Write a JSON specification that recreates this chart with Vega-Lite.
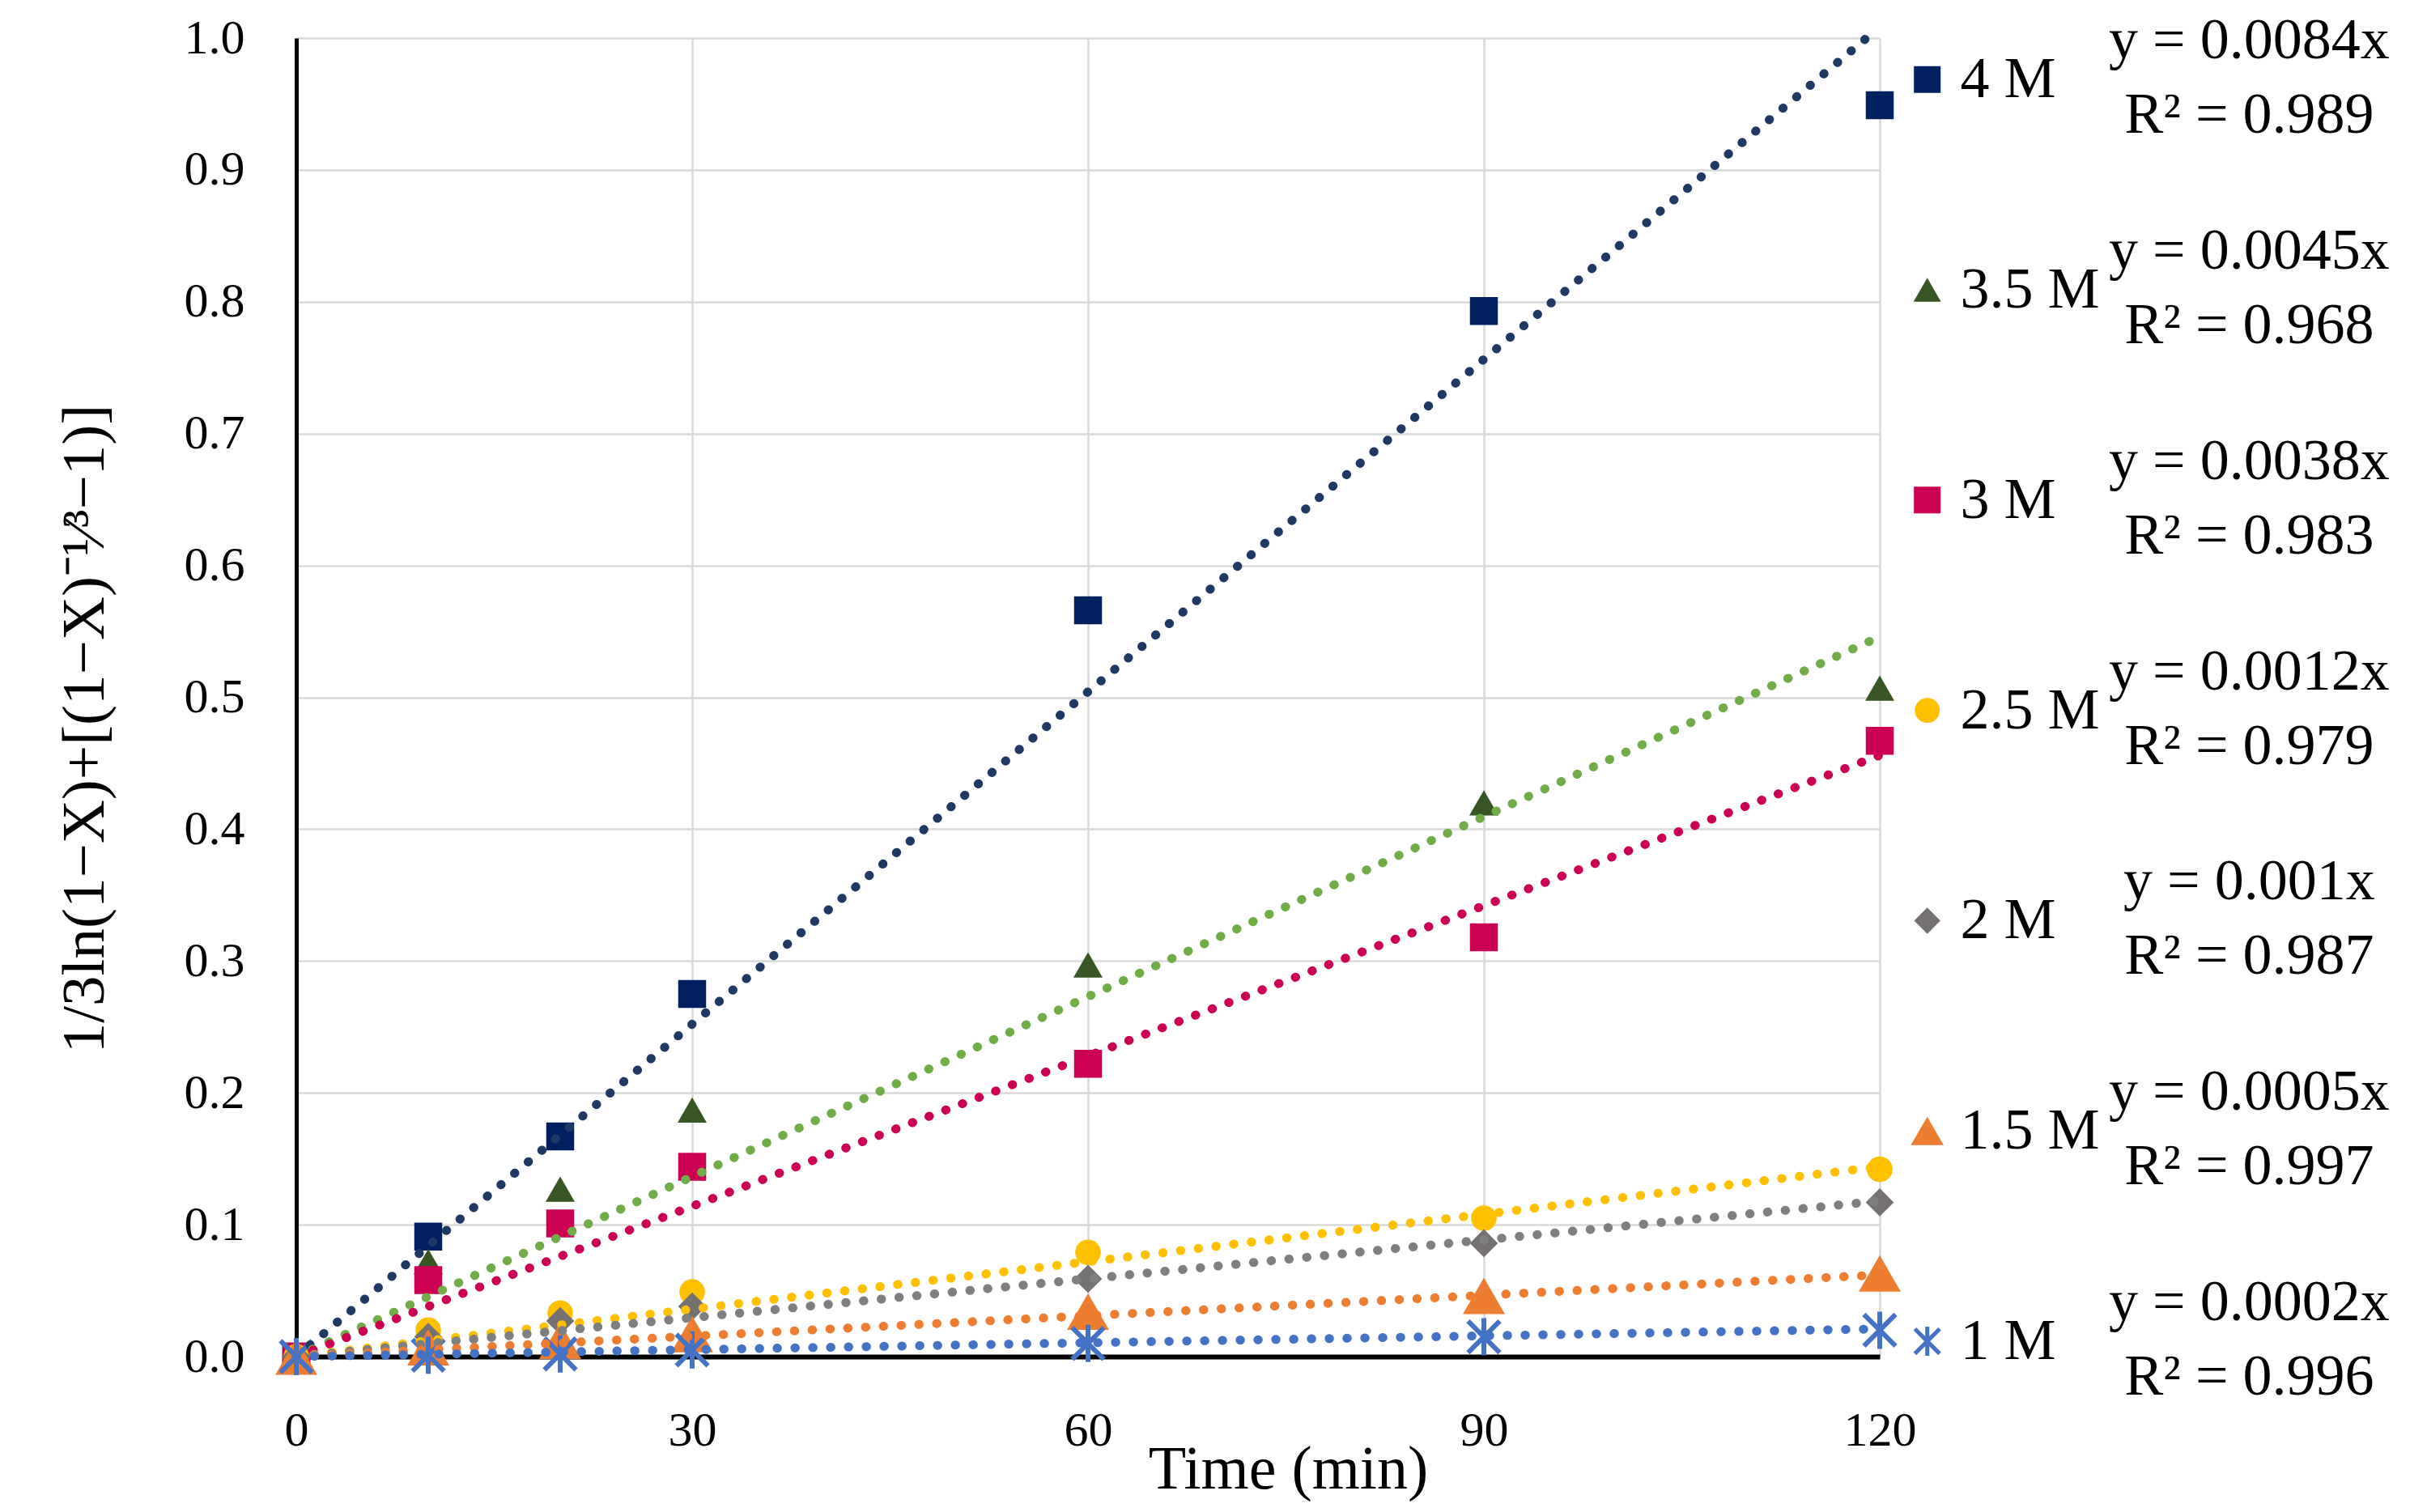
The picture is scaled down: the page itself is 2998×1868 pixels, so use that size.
{
  "$schema": "https://vega.github.io/schema/vega-lite/v6.json",
  "width": 1956,
  "height": 1629,
  "autosize": {"type": "none"},
  "padding": {"left": 366, "top": 47, "right": 676, "bottom": 192},
  "background": "white",
  "datasets": {
    "obs": [
      {"series": "4 M", "t": 0, "v": 0},
      {"series": "4 M", "t": 10, "v": 0.091},
      {"series": "4 M", "t": 20, "v": 0.167},
      {"series": "4 M", "t": 30, "v": 0.275},
      {"series": "4 M", "t": 60, "v": 0.566},
      {"series": "4 M", "t": 90, "v": 0.793},
      {"series": "4 M", "t": 120, "v": 0.949},
      {"series": "3.5 M", "t": 0, "v": 0},
      {"series": "3.5 M", "t": 10, "v": 0.072},
      {"series": "3.5 M", "t": 20, "v": 0.127},
      {"series": "3.5 M", "t": 30, "v": 0.187},
      {"series": "3.5 M", "t": 60, "v": 0.297},
      {"series": "3.5 M", "t": 90, "v": 0.42},
      {"series": "3.5 M", "t": 120, "v": 0.507},
      {"series": "3 M", "t": 0, "v": 0},
      {"series": "3 M", "t": 10, "v": 0.058},
      {"series": "3 M", "t": 20, "v": 0.101},
      {"series": "3 M", "t": 30, "v": 0.144},
      {"series": "3 M", "t": 60, "v": 0.222},
      {"series": "3 M", "t": 90, "v": 0.318},
      {"series": "3 M", "t": 120, "v": 0.467},
      {"series": "2.5 M", "t": 0, "v": 0},
      {"series": "2.5 M", "t": 10, "v": 0.02},
      {"series": "2.5 M", "t": 20, "v": 0.033},
      {"series": "2.5 M", "t": 30, "v": 0.049},
      {"series": "2.5 M", "t": 60, "v": 0.079},
      {"series": "2.5 M", "t": 90, "v": 0.105},
      {"series": "2.5 M", "t": 120, "v": 0.142},
      {"series": "2 M", "t": 0, "v": 0},
      {"series": "2 M", "t": 10, "v": 0.015},
      {"series": "2 M", "t": 20, "v": 0.027},
      {"series": "2 M", "t": 30, "v": 0.038},
      {"series": "2 M", "t": 60, "v": 0.059},
      {"series": "2 M", "t": 90, "v": 0.086},
      {"series": "2 M", "t": 120, "v": 0.117},
      {"series": "1.5 M", "t": 0, "v": 0},
      {"series": "1.5 M", "t": 10, "v": 0.007},
      {"series": "1.5 M", "t": 20, "v": 0.012},
      {"series": "1.5 M", "t": 30, "v": 0.017},
      {"series": "1.5 M", "t": 60, "v": 0.034},
      {"series": "1.5 M", "t": 90, "v": 0.046},
      {"series": "1.5 M", "t": 120, "v": 0.063},
      {"series": "1 M", "t": 0, "v": 0},
      {"series": "1 M", "t": 10, "v": 0.001},
      {"series": "1 M", "t": 20, "v": 0.002},
      {"series": "1 M", "t": 30, "v": 0.005},
      {"series": "1 M", "t": 60, "v": 0.01},
      {"series": "1 M", "t": 90, "v": 0.015},
      {"series": "1 M", "t": 120, "v": 0.02}
    ],
    "trend": [
      {"series": "4 M", "t": 0, "v": 0},
      {"series": "4 M", "t": 119, "v": 1.0},
      {"series": "3.5 M", "t": 0, "v": 0},
      {"series": "3.5 M", "t": 120, "v": 0.546},
      {"series": "3 M", "t": 0, "v": 0},
      {"series": "3 M", "t": 120, "v": 0.456},
      {"series": "2.5 M", "t": 0, "v": 0},
      {"series": "2.5 M", "t": 120, "v": 0.144},
      {"series": "2 M", "t": 0, "v": 0},
      {"series": "2 M", "t": 120, "v": 0.118},
      {"series": "1.5 M", "t": 0, "v": 0},
      {"series": "1.5 M", "t": 120, "v": 0.062},
      {"series": "1 M", "t": 0, "v": 0},
      {"series": "1 M", "t": 120, "v": 0.021}
    ],
    "series": [
      {"series": "4 M", "eq": "y = 0.0084x", "r2": "R² = 0.989"},
      {"series": "3.5 M", "eq": "y = 0.0045x", "r2": "R² = 0.968"},
      {"series": "3 M", "eq": "y = 0.0038x", "r2": "R² = 0.983"},
      {"series": "2.5 M", "eq": "y = 0.0012x", "r2": "R² = 0.979"},
      {"series": "2 M", "eq": "y = 0.001x", "r2": "R² = 0.987"},
      {"series": "1.5 M", "eq": "y = 0.0005x", "r2": "R² = 0.997"},
      {"series": "1 M", "eq": "y = 0.0002x", "r2": "R² = 0.996"}
    ]
  },
  "layer": [
    {
      "description": "plot",
      "layer": [
        {
          "description": "markers",
          "data": {"name": "obs"},
          "transform": [{"filter": "datum.series != '1 M'"}],
          "mark": {"type": "point", "filled": true, "opacity": 1},
          "encoding": {
            "x": {
              "field": "t",
              "type": "quantitative",
              "scale": {"domain": [0, 120], "nice": false, "zero": false},
              "axis": {
                "values": [0, 30, 60, 90, 120],
                "title": "Time (min)",
                "titleX": 1225,
                "titleY": 162,
                "titleAlign": "center",
                "titleBaseline": "alphabetic",
                "titleFontSize": 76,
                "labelFontSize": 60,
                "labelPadding": 62,
                "labelFlush": false,
                "domainWidth": 6
              }
            },
            "y": {
              "field": "v",
              "type": "quantitative",
              "scale": {"domain": [0, 1], "nice": false},
              "axis": {
                "values": [0, 0.1, 0.2, 0.3, 0.4, 0.5, 0.6, 0.7, 0.8, 0.9, 1.0],
                "format": ".1f",
                "title": "1/3ln(1−X)+[(1−X)⁻¹⁄³−1)]",
                "titleX": -239,
                "titleY": 853,
                "titleAngle": -90,
                "titleAlign": "center",
                "titleBaseline": "alphabetic",
                "titleFontSize": 75,
                "labelFontSize": 60,
                "labelPadding": 64,
                "labelFlush": false,
                "domainWidth": 5
              }
            },
            "color": {
              "field": "series",
              "type": "nominal",
              "scale": {
                "domain": ["4 M", "3.5 M", "3 M", "2.5 M", "2 M", "1.5 M"],
                "range": ["#002060", "#375623", "#CC0052", "#FFC000", "#767171", "#ED7D31"]
              },
              "legend": null
            },
            "shape": {
              "field": "series",
              "type": "nominal",
              "scale": {
                "domain": ["4 M", "3.5 M", "3 M", "2.5 M", "2 M", "1.5 M"],
                "range": ["square", "triangle-up", "square", "circle", "diamond", "triangle-up"]
              },
              "legend": null
            },
            "size": {
              "field": "series",
              "type": "nominal",
              "scale": {
                "type": "ordinal",
                "domain": ["4 M", "3.5 M", "3 M", "2.5 M", "2 M", "1.5 M"],
                "range": [1190, 1300, 1190, 1000, 1200, 2700]
              },
              "legend": null
            }
          }
        },
        {
          "description": "1 M star markers",
          "data": {"name": "obs"},
          "transform": [{"filter": "datum.series == '1 M'"}],
          "mark": {
            "type": "point",
            "shape": "M-0.85,-0.85L0.85,0.85M0.85,-0.85L-0.85,0.85M0,-1L0,1",
            "filled": false,
            "color": "#4472C4",
            "strokeWidth": 6,
            "size": 2116,
            "opacity": 1
          },
          "encoding": {
            "x": {"field": "t", "type": "quantitative", "scale": {"domain": [0, 120], "nice": false, "zero": false}},
            "y": {"field": "v", "type": "quantitative", "scale": {"domain": [0, 1], "nice": false}}
          }
        },
        {
          "description": "trend lines",
          "data": {"name": "trend"},
          "mark": {"type": "line", "strokeWidth": 11, "strokeDash": [0.5, 21.5], "strokeCap": "round"},
          "encoding": {
            "x": {"field": "t", "type": "quantitative", "scale": {"domain": [0, 120], "nice": false, "zero": false}},
            "y": {"field": "v", "type": "quantitative", "scale": {"domain": [0, 1], "nice": false}},
            "stroke": {
              "field": "series",
              "type": "nominal",
              "scale": {
                "domain": ["4 M", "3.5 M", "3 M", "2.5 M", "2 M", "1.5 M", "1 M"],
                "range": ["#203864", "#70AD47", "#CC0052", "#FFC000", "#7F7F7F", "#ED7D31", "#4472C4"]
              },
              "legend": null
            }
          }
        }
      ]
    },
    {
      "description": "legend and equations",
      "data": {"name": "series"},
      "layer": [
        {
          "transform": [{"filter": "datum.series != '1 M'"}],
          "mark": {"type": "point", "filled": true, "opacity": 1},
          "encoding": {
            "x": {"datum": 123.6, "type": "quantitative", "scale": {"domain": [0, 120], "nice": false, "zero": false}},
            "y": {
              "field": "series",
              "type": "ordinal",
              "scale": {"type": "point", "domain": ["4 M", "3.5 M", "3 M", "2.5 M", "2 M", "1.5 M", "1 M"], "padding": 0.135, "align": 0.73},
              "axis": null
            },
            "color": {
              "field": "series",
              "type": "nominal",
              "scale": {
                "domain": ["4 M", "3.5 M", "3 M", "2.5 M", "2 M", "1.5 M"],
                "range": ["#002060", "#375623", "#CC0052", "#FFC000", "#767171", "#ED7D31"]
              },
              "legend": null
            },
            "shape": {
              "field": "series",
              "type": "nominal",
              "scale": {
                "domain": ["4 M", "3.5 M", "3 M", "2.5 M", "2 M", "1.5 M"],
                "range": ["square", "triangle-up", "square", "circle", "diamond", "triangle-up"]
              },
              "legend": null
            },
            "size": {
              "field": "series",
              "type": "nominal",
              "scale": {
                "type": "ordinal",
                "domain": ["4 M", "3.5 M", "3 M", "2.5 M", "2 M", "1.5 M"],
                "range": [1089, 1150, 1089, 950, 1050, 1640]
              },
              "legend": null
            }
          }
        },
        {
          "transform": [{"filter": "datum.series == '1 M'"}],
          "mark": {
            "type": "point",
            "shape": "M-0.85,-0.85L0.85,0.85M0.85,-0.85L-0.85,0.85M0,-1L0,1",
            "filled": false,
            "color": "#4472C4",
            "strokeWidth": 5,
            "size": 1300,
            "opacity": 1
          },
          "encoding": {
            "x": {"datum": 123.6, "type": "quantitative", "scale": {"domain": [0, 120], "nice": false, "zero": false}},
            "y": {
              "field": "series",
              "type": "ordinal",
              "scale": {"type": "point", "domain": ["4 M", "3.5 M", "3 M", "2.5 M", "2 M", "1.5 M", "1 M"], "padding": 0.135, "align": 0.73},
              "axis": null
            }
          }
        },
        {
          "mark": {"type": "text", "align": "left", "baseline": "middle", "fontSize": 72, "color": "black"},
          "encoding": {
            "x": {"datum": 126.1, "type": "quantitative", "scale": {"domain": [0, 120], "nice": false, "zero": false}},
            "y": {
              "field": "series",
              "type": "ordinal",
              "scale": {"type": "point", "domain": ["4 M", "3.5 M", "3 M", "2.5 M", "2 M", "1.5 M", "1 M"], "padding": 0.135, "align": 0.73},
              "axis": null
            },
            "text": {"field": "series"}
          }
        },
        {
          "mark": {"type": "text", "align": "center", "baseline": "middle", "dy": -48, "fontSize": 72, "color": "black"},
          "encoding": {
            "x": {"datum": 148, "type": "quantitative", "scale": {"domain": [0, 120], "nice": false, "zero": false}},
            "y": {
              "field": "series",
              "type": "ordinal",
              "scale": {"type": "point", "domain": ["4 M", "3.5 M", "3 M", "2.5 M", "2 M", "1.5 M", "1 M"], "padding": 0.135, "align": 0.73},
              "axis": null
            },
            "text": {"field": "eq"}
          }
        },
        {
          "mark": {"type": "text", "align": "center", "baseline": "middle", "dy": 44, "fontSize": 72, "color": "black"},
          "encoding": {
            "x": {"datum": 148, "type": "quantitative", "scale": {"domain": [0, 120], "nice": false, "zero": false}},
            "y": {
              "field": "series",
              "type": "ordinal",
              "scale": {"type": "point", "domain": ["4 M", "3.5 M", "3 M", "2.5 M", "2 M", "1.5 M", "1 M"], "padding": 0.135, "align": 0.73},
              "axis": null
            },
            "text": {"field": "r2"}
          }
        }
      ]
    }
  ],
  "resolve": {"scale": {"y": "independent", "size": "independent"}},
  "config": {
    "font": "Liberation Serif",
    "view": {"stroke": null},
    "axis": {
      "grid": true,
      "gridColor": "#D9D9D9",
      "gridWidth": 2.5,
      "ticks": false,
      "domain": true,
      "domainColor": "black",
      "labelColor": "black",
      "titleColor": "black",
      "titleFontWeight": "normal",
      "labelFont": "Liberation Serif",
      "titleFont": "Liberation Serif"
    }
  }
}
